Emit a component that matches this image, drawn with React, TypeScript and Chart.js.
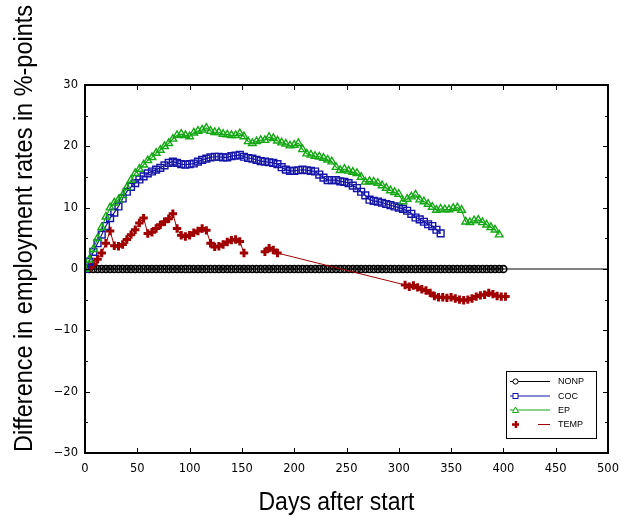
import React, { useEffect, useRef } from 'react';
import { Chart, registerables } from 'chart.js';

Chart.register(...registerables);

// ---------- data ----------
const DAYS = [
  0, 4, 8, 12, 16, 20, 24, 28, 32, 36, 40, 44, 48, 52, 56, 60, 64, 68, 72, 76,
  80, 84, 88, 92, 96, 100, 104, 108, 112, 116, 120, 124, 128, 132, 136, 140, 144, 148, 152, 156,
  160, 164, 168, 172, 176, 180, 184, 188, 192, 196, 200, 204, 208, 212, 216, 220, 224, 228, 232, 236,
  240, 244, 248, 252, 256, 260, 264, 268, 272, 276, 280, 284, 288, 292, 296, 300, 304, 308, 312, 316,
  320, 324, 328, 332, 336, 340, 344, 348, 352, 356, 360, 364, 368, 372, 376, 380, 384, 388, 392, 396,
  400,
];

const NONP_VALUES = [
  0, 0, 0, 0, 0, 0, 0, 0, 0, 0, 0, 0, 0, 0, 0, 0, 0, 0, 0, 0,
  0, 0, 0, 0, 0, 0, 0, 0, 0, 0, 0, 0, 0, 0, 0, 0, 0, 0, 0, 0,
  0, 0, 0, 0, 0, 0, 0, 0, 0, 0, 0, 0, 0, 0, 0, 0, 0, 0, 0, 0,
  0, 0, 0, 0, 0, 0, 0, 0, 0, 0, 0, 0, 0, 0, 0, 0, 0, 0, 0, 0,
  0, 0, 0, 0, 0, 0, 0, 0, 0, 0, 0, 0, 0, 0, 0, 0, 0, 0, 0, 0,
  0,
];

const COC_VALUES = [
  0, 1.2, 2.8, 4.2, 5.6, 7, 8.3, 9.2, 10.2, 11.5,
  12.6, 13.4, 14, 14.6, 15.1, 15.6, 15.9, 16.2, 16.5, 16.9,
  17.3, 17.5, 17.3, 17.1, 17.0, 17.1, 17.2, 17.5, 17.8, 18.0,
  18.2, 18.3, 18.3, 18.2, 18.2, 18.4, 18.5, 18.6, 18.3, 18.1,
  18.0, 17.8, 17.6, 17.5, 17.4, 17.3, 17.1, 16.6, 16.2, 16.0,
  16.0, 16.1, 16.2, 16.1, 16.0, 15.9, 15.4, 14.9, 14.5, 14.5,
  14.5, 14.3, 14.2, 14.0, 13.6, 13.2, 12.6, 12.0, 11.3, 11.1,
  11.0, 10.8, 10.6, 10.4, 10.2, 10.0, 9.8, 9.5, 9.0, 8.4,
  8.1, 7.7, 7.3, 7.0, 6.4, 5.8,
];

const EP_VALUES = [
  0, 1.5, 3.2, 5, 6.8, 8.5, 10, 10.8, 11.3, 12,
  13.3, 14.5, 15.6, 16.3, 17, 17.7, 18.2, 18.9, 19.4, 20,
  20.5, 21.2, 21.8, 22, 21.8, 21.6, 22.2, 22.5, 22.7, 23,
  22.5, 22.3, 22.3, 22.0, 21.9, 21.8, 21.8, 22.1, 21.6, 20.8,
  20.5, 20.8, 21, 21, 21.5, 21.3, 20.9, 20.6, 20.4, 20.1,
  20.2, 20.5, 19.5, 18.8, 18.6, 18.4, 18.3, 18.1, 17.8, 17.5,
  16.6, 16.1, 16.3, 16.0, 15.8, 15.6, 15.0, 14.2, 14.3, 14.2,
  14.0, 13.6, 13.2, 12.8, 12.5, 12.2, 11.0, 11.4, 11.8, 12.1,
  11.3, 11.0, 10.6, 10.1, 9.6, 9.8, 9.7, 9.7, 9.9, 10.0,
  9.6, 7.7, 7.6, 7.9, 8.0, 7.6, 7.2, 6.8, 6.4, 5.6,
];

const TEMP_DAYS = [
  4, 8, 12, 16, 20, 24, 28, 32, 36, 40, 44, 48, 52, 56, 60, 64, 68, 72, 76, 80,
  84, 88, 92, 96, 100, 104, 108, 112, 116, 120, 124, 128, 132, 136, 140, 144, 148, 152,
  160, 172, 176, 180, 184,
  306, 310, 314, 318, 322, 326, 330, 334, 338, 342, 346, 350, 354, 358, 362, 366, 370, 374,
  378, 382, 386, 390, 394, 398, 402,
];

const TEMP_VALUES = [
  0.2, 0.8, 1.6, 2.6, 4.2, 6.2, 3.8, 3.7, 4.0, 4.8, 5.6, 6.4, 7.5, 8.3, 5.8, 6.0, 6.6, 7.2, 7.7, 8.2,
  9.0, 6.6, 5.5, 5.3, 5.5, 5.9, 6.2, 6.6, 6.3, 4.2, 3.6, 3.7, 4.0, 4.4, 4.7, 4.8, 4.5, 2.6,
  null, 2.8, 3.4, 3.1, 2.6,
  -2.6, -2.9, -2.7, -3.0, -3.3, -3.5, -3.9, -4.4, -4.6, -4.6, -4.7, -4.6, -4.8, -5.0, -5.1, -5.0, -4.8, -4.5,
  -4.3, -4.2, -3.9, -4.1, -4.4, -4.5, -4.5,
];

const ZERO_LINE_DAYS = [0, 500];
const ZERO_LINE_VALUES = [0, 0];

const X_TICKS = [0, 50, 100, 150, 200, 250, 300, 350, 400, 450, 500];
const Y_TICKS = [-30, -25, -20, -15, -10, -5, 0, 5, 10, 15, 20, 25, 30];
const Y_MAJOR = [-30, -20, -10, 0, 10, 20, 30];

const SERIES_NAMES = ['NONP', 'COC', 'EP', 'TEMP'];
const X_TITLE = 'Days after start';
const Y_TITLE = 'Difference in employment rates in %-points';

// ---------- styles ----------
const C_NONP = '#000000';
const C_COC = '#1414a8';
const C_EP = '#14a814';
const C_TEMP = '#a00000';
const TICK_FONT = '"DejaVu Sans", "Liberation Sans", Arial, sans-serif';
const TEXT_FONT = '"Liberation Sans", Arial, Helvetica, sans-serif';

const toPoints = (xs: number[], ys: (number | null)[]) =>
  ys.map((v, i) => ({ x: xs[i], y: v }));

const decorPlugin = {
  id: 'decor',
  afterDraw(chart: any) {
    const { ctx, chartArea: a, scales } = chart;
    const xs = scales.x;
    const ys = scales.y;
    ctx.save();
    ctx.strokeStyle = '#000';
    ctx.lineWidth = 1;
    const seg = (x1: number, y1: number, x2: number, y2: number) => {
      ctx.beginPath();
      ctx.moveTo(x1, y1);
      ctx.lineTo(x2, y2);
      ctx.stroke();
    };
    // inward ticks
    for (const v of X_TICKS) {
      const px = Math.round(xs.getPixelForValue(v)) + 0.5;
      seg(px, a.bottom, px, a.bottom - 5);
      seg(px, a.top, px, a.top + 5);
    }
    for (const v of Y_TICKS) {
      const py = Math.round(ys.getPixelForValue(v)) + 0.5;
      const len = Y_MAJOR.includes(v) ? 5 : 3;
      seg(a.left, py, a.left + len, py);
      seg(a.right, py, a.right - len, py);
    }
    // frame
    ctx.lineWidth = 2;
    ctx.strokeRect(a.left, a.top, a.right - a.left, a.bottom - a.top);

    // axis titles
    ctx.fillStyle = '#000';
    ctx.font = `25.5px ${TEXT_FONT}`;
    ctx.textAlign = 'center';
    ctx.textBaseline = 'alphabetic';
    ctx.fillText(X_TITLE, 336.5, 510, 156);
    ctx.save();
    ctx.translate(32, 228.5);
    ctx.rotate(-Math.PI / 2);
    ctx.fillText(Y_TITLE, 0, 0, 447);
    ctx.restore();

    // legend
    const bx = 506.5, by = 371.5, bw = 90, bh = 67;
    ctx.fillStyle = '#fff';
    ctx.fillRect(bx, by, bw, bh);
    ctx.lineWidth = 1;
    ctx.strokeStyle = '#000';
    ctx.strokeRect(bx, by, bw, bh);
    const rows = [381.5, 396, 410, 424.5];
    const colors = [C_NONP, C_COC, C_EP, C_TEMP];
    ctx.font = `9px ${TEXT_FONT}`;
    ctx.textAlign = 'left';
    ctx.textBaseline = 'middle';
    rows.forEach((ry, i) => {
      const col = colors[i];
      ctx.strokeStyle = col;
      ctx.lineWidth = 1;
      if (i < 3) {
        seg(510, ry, 550, ry);
      } else {
        seg(538, ry, 550, ry);
      }
      const mx = 515.5;
      ctx.lineWidth = 1;
      if (i === 0) {
        ctx.fillStyle = '#fff';
        ctx.beginPath();
        ctx.arc(mx, ry, 2.6, 0, Math.PI * 2);
        ctx.fill();
        ctx.stroke();
      } else if (i === 1) {
        ctx.fillStyle = '#fff';
        ctx.fillRect(mx - 2.5, ry - 2.5, 5, 5);
        ctx.strokeRect(mx - 2.5, ry - 2.5, 5, 5);
      } else if (i === 2) {
        ctx.fillStyle = '#fff';
        ctx.beginPath();
        ctx.moveTo(mx, ry - 3);
        ctx.lineTo(mx + 3, ry + 2.5);
        ctx.lineTo(mx - 3, ry + 2.5);
        ctx.closePath();
        ctx.fill();
        ctx.stroke();
      } else {
        ctx.lineWidth = 2.5;
        seg(mx - 3.5, ry, mx + 3.5, ry);
        seg(mx + 0.5, ry - 3.5, mx + 0.5, ry + 3.5);
      }
      ctx.fillStyle = '#000';
      ctx.fillText(SERIES_NAMES[i], 558, ry + 0.5);
    });
    ctx.restore();
  },
};

export default function App() {
  const ref = useRef<HTMLCanvasElement | null>(null);

  useEffect(() => {
    if (!ref.current) return;
    const chart = new Chart(ref.current, {
      type: 'line',
      data: {
        datasets: [
          {
            label: 'zero',
            data: toPoints(ZERO_LINE_DAYS, ZERO_LINE_VALUES),
            borderColor: '#000',
            borderWidth: 1,
            pointRadius: 0,
            order: 5,
          },
          {
            label: SERIES_NAMES[0],
            data: toPoints(DAYS, NONP_VALUES),
            borderColor: C_NONP,
            backgroundColor: 'rgba(0,0,0,0)',
            borderWidth: 1,
            pointStyle: 'circle',
            pointRadius: 3.4,
            pointBorderWidth: 1.6,
            pointBorderColor: C_NONP,
            pointBackgroundColor: 'rgba(0,0,0,0)',
            order: 4,
          },
          {
            label: SERIES_NAMES[3],
            data: toPoints(TEMP_DAYS, TEMP_VALUES),
            borderColor: C_TEMP,
            backgroundColor: C_TEMP,
            borderWidth: 1,
            pointStyle: 'cross',
            pointRadius: 4.2,
            pointBorderWidth: 3,
            pointBorderColor: C_TEMP,
            spanGaps: false,
            order: 3,
          },
          {
            label: SERIES_NAMES[1],
            data: toPoints(DAYS, COC_VALUES),
            borderColor: C_COC,
            backgroundColor: 'rgba(0,0,0,0)',
            borderWidth: 1.2,
            pointStyle: 'rect',
            pointRadius: 4.8,
            pointBorderWidth: 1.4,
            pointBorderColor: C_COC,
            pointBackgroundColor: 'rgba(0,0,0,0)',
            order: 2,
          },
          {
            label: SERIES_NAMES[2],
            data: toPoints(DAYS, EP_VALUES),
            borderColor: C_EP,
            backgroundColor: 'rgba(0,0,0,0)',
            borderWidth: 1.2,
            pointStyle: 'triangle',
            pointRadius: 4.4,
            pointBorderWidth: 1.4,
            pointBorderColor: C_EP,
            pointBackgroundColor: 'rgba(0,0,0,0)',
            order: 1,
          },
        ],
      },
      options: {
        animation: false,
        responsive: false,
        maintainAspectRatio: false,
        devicePixelRatio: 1,
        layout: { padding: { top: 85, right: 13, left: 0, bottom: 0 } },
        plugins: {
          legend: { display: false },
          tooltip: { enabled: false },
          title: { display: false },
        },
        elements: { line: { tension: 0 } },
        scales: {
          x: {
            type: 'linear',
            min: 0,
            max: 500,
            afterBuildTicks: (s: any) => {
              s.ticks = X_TICKS.map((v) => ({ value: v }));
            },
            afterFit: (s: any) => {
              s.height = 64;
              s.paddingLeft = 0;
              s.paddingRight = 0;
            },
            ticks: {
              autoSkip: false,
              maxRotation: 0,
              padding: 9,
              color: '#000',
              font: { family: TICK_FONT, size: 11.5 },
            },
            grid: { display: false, drawTicks: false },
            border: { display: false },
          },
          y: {
            type: 'linear',
            min: -30,
            max: 30,
            afterBuildTicks: (s: any) => {
              s.ticks = Y_MAJOR.map((v) => ({ value: v }));
            },
            afterFit: (s: any) => {
              s.width = 85;
              s.paddingTop = 0;
              s.paddingBottom = 0;
            },
            ticks: {
              padding: 7,
              color: '#000',
              font: { family: TICK_FONT, size: 11.5 },
              callback: (v: any) => (Number(v) < 0 ? '\u2212' + Math.abs(Number(v)) : String(v)),
            },
            grid: { display: false, drawTicks: false },
            border: { display: false },
          },
        },
      },
      plugins: [decorPlugin],
    } as any);
    return () => chart.destroy();
  }, []);

  return (
    <div style={{ position: 'absolute', left: 0, top: 0, width: 621, height: 517, background: '#fff' }}>
      <canvas ref={ref} width={621} height={517} style={{ width: 621, height: 517, display: 'block' }} />
    </div>
  );
}
